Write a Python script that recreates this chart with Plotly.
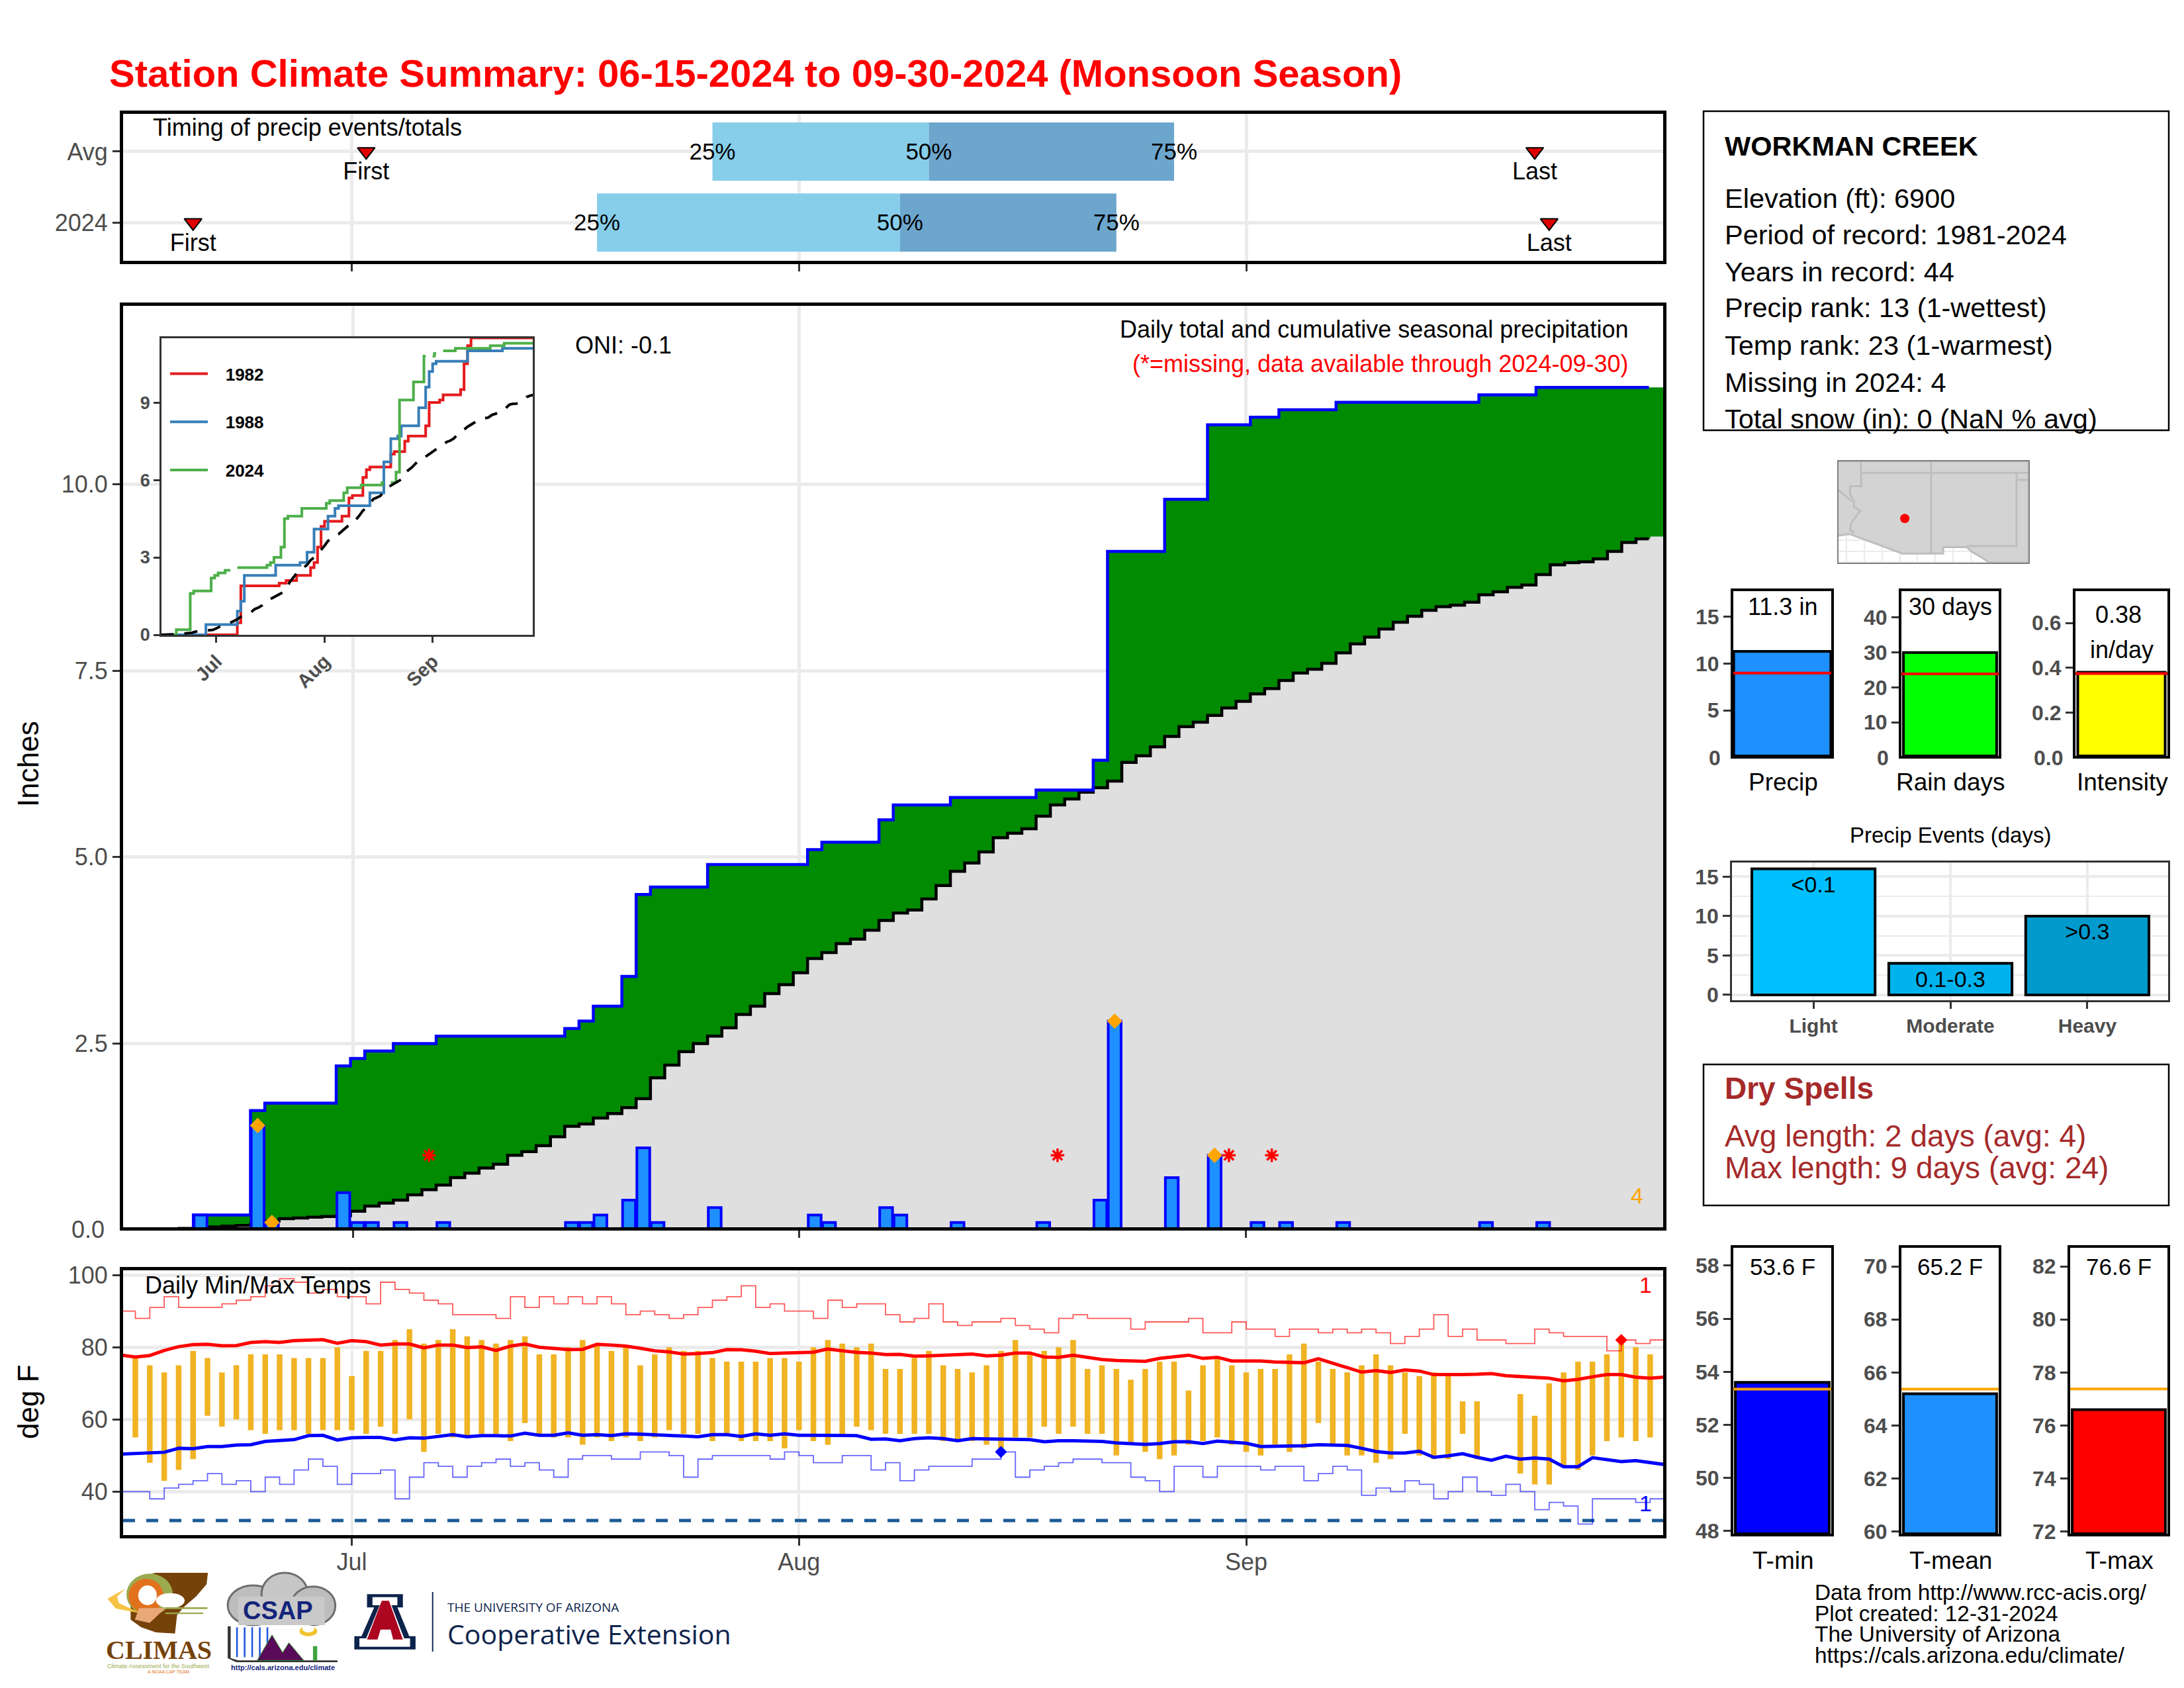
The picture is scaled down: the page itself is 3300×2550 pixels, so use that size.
"""
Station climate summary (monsoon season) rebuilt with Plotly
"""
import numpy as np
import plotly.graph_objects as go

W, H = 3300, 2550
PAGE_GAP = 8  # default body margin of the written page

# ---- data ----
days = list(range(108))
month_ticks = [16, 47, 78]
month_ticks_precip = [15.67, 46.92, 78.18]  # the daily bars fill the whole panel, so months sit slightly off
month_labels = ['Jul', 'Aug', 'Sep']

precip_2024 = [0, 0, 0, 0, 0, .2, 0, 0, 0, 1.4, .1, 0, 0, 0, 0, .5, .1, .1, 0, .1, 0, 0, .1, 0, 0, 0, 0, 0, 0, 0, 0,
               .1, .1, .2, 0, .4, 1.1, .1, 0, 0, 0, .3, 0, 0, 0, 0, 0, 0, .2, .1, 0, 0, 0, .3, .2, 0, 0, 0, .1, 0, 0,
               0, 0, 0, .1, 0, 0, 0, .4, 2.8, 0, 0, 0, .7, 0, 0, 1.0, 0, 0, .1, 0, .1, 0, 0, 0, .1, 0, 0, 0, 0, 0, 0,
               0, 0, 0, .1, 0, 0, 0, .1, 0, 0, 0, 0, 0, 0, 0, 0]
precip_avg = [0, 0, .01, .01, .02, .03, .04, .05, .06, .08, .12, .15, .16, .17, .18, .19, .25, .32, .36, .40,
              .47, .54, .6, .7, .76, .83, .88, 1.0, 1.05, 1.13, 1.25, 1.39, 1.42, 1.5, 1.56, 1.64, 1.76, 2.04,
              2.21, 2.39, 2.5, 2.6, 2.71, 2.89, 3.0, 3.17, 3.29, 3.45, 3.64, 3.72, 3.84, 3.9, 4.02, 4.15, 4.25,
              4.29, 4.44, 4.62, 4.81, 4.92, 5.07, 5.26, 5.32, 5.38, 5.55, 5.7, 5.78, 5.87, 5.93, 6.02, 6.27, 6.36,
              6.48, 6.62, 6.75, 6.81, 6.9, 7.0, 7.09, 7.19, 7.26, 7.37, 7.47, 7.52, 7.6, 7.74, 7.86, 7.95, 8.06,
              8.15, 8.23, 8.31, 8.36, 8.38, 8.42, 8.52, 8.56, 8.62, 8.65, 8.79, 8.92, 8.95, 8.96, 9.0, 9.1, 9.22,
              9.27, 9.3]
flag_days = [9, 10, 69, 76]
flag_vals = [1.4, .1, 2.8, 1.0]
missing_days = [21, 65, 77, 80]
missing_vals = [1.0, 1.0, 1.0, 1.0]

y1982_days = [0, 22, 23, 34, 36, 39, 43, 44, 45, 46, 47, 52, 54, 55, 58, 59, 60, 66, 67, 70, 71, 76, 77, 80, 81,
              86, 87, 88, 89, 107]
y1982_vals = [0, .47, 1.9, 2.0, 2.1, 2.3, 2.6, 2.8, 3.4, 4.2, 4.4, 4.6, 5.3, 5.4, 6.1, 6.4, 6.5, 7.0, 7.1, 7.5,
              7.7, 8.1, 9.0, 9.1, 9.3, 9.5, 10.5, 11.2, 11.5, 11.5]
y1988_days = [0, 13, 22, 23, 24, 33, 40, 42, 44, 48, 50, 51, 60, 64, 66, 68, 69, 74, 76, 77, 78, 79, 88, 98, 107]
y1988_vals = [0, .4, .92, 1.3, 2.3, 2.7, 2.8, 3.2, 4.1, 4.6, 4.9, 5.0, 5.5, 6.7, 7.6, 7.7, 8.1, 8.8, 9.6, 10.2,
              10.5, 10.6, 11.0, 11.1, 11.1]

temp_hi = [None, 77, 75, 73, 75, 79, 77, 73, 75, 78, 78, 78, 77, 77, 77, 80, 72, 79, 79, 82, 85, 81, 82, 85, 83, 82,
           81, 82, 83, 78, 78, 80, 82, 81, 79, 80, 75, 78, 80, 79, 79, 77, 76, 76, 76, 77, 77, 76, 80, 82, 81, 80,
           81, 74, 74, 77, 79, 75, 74, 73, 75, 79, 82, 78, 79, 80, 82, 74, 75, 74, 71, 74, 76, 76, 68, 75, 77, 75,
           73, 74, 74, 78, 81, 76, 74, 73, 75, 78, 75, 73, 72, 73, 72, 65, 65, None, None, 67, 61, 70, 73, 76, 76,
           78, 81, 80, 78, None]
temp_lo = [None, 55, 48, 43, 46, 49, 61, 58, 60, 57, 56, 57, 57, 56, 57, 57, 57, 56, 58, 56, 60, 51, 56, 55, 55, 56,
           56, 54, 59, 56, 55, 55, 53, 55, 54, 55, 54, 55, 57, 56, 56, 54, 56, 54, 54, 54, 52, 57, 54, 53, 56, 58,
           57, 56, 56, 56, 56, 54, 54, 54, 53, 52, 55, 55, 58, 56, 58, 56, 56, 50, 53, 51, 49, 50, 53, 54, 55, 53,
           51, 50, 53, 51, 52, 59, 53, 50, 50, 48, 49, 56, 50, 49, 49, 56, 49, None, None, 45, 42, 42, 47, 46, 50,
           54, 55, 54, 55, None]
avg_hi = [77.8, 77.3, 77.7, 79.1, 80.15, 80.7, 80.8, 80.4, 80.45, 81.3, 81.55, 81.3, 81.8, 82.0, 82.1, 81.1, 81.8,
          81.55, 80.6, 80.9, 80.9, 79.8, 80.6, 80.6, 79.9, 80.1, 79.1, 80.3, 80.9, 80.0, 79.7, 79.35, 79.4, 80.8,
          80.6, 80.3, 79.7, 79.0, 78.7, 78.1, 78.25, 78.5, 79.35, 79.3, 78.9, 78.25, 78.4, 78.6, 78.6, 79.5, 79.1,
          78.55, 78.4, 77.95, 78.0, 77.5, 77.6, 77.8, 77.9, 78.1, 77.6, 77.8, 78.4, 78.4, 77.3, 77.2, 77.8, 77.1,
          76.6, 76.3, 76.2, 76.1, 76.9, 77.4, 77.8, 76.9, 77.2, 76.2, 76.2, 76.2, 75.9, 75.9, 75.7, 76.8, 75.6, 74.5,
          73.1, 73.5, 73.0, 73.7, 73.4, 72.4, 72.3, 72.4, 72.5, 72.7, 72.1, 71.9, 71.8, 71.4, 70.7, 71.1, 71.8, 72.4,
          72.4, 71.7, 71.4, 71.7]
avg_lo = [50.4, 50.6, 50.9, 50.9, 52.0, 51.9, 52.5, 52.5, 52.9, 53.0, 53.9, 54.2, 54.4, 55.5, 55.6, 54.3, 54.9, 55.0,
          55.0, 54.3, 54.9, 54.8, 55.2, 55.8, 55.2, 55.5, 55.5, 55.4, 56.2, 55.6, 55.6, 56.3, 55.6, 55.8, 55.5, 56.0,
          55.9, 55.8, 55.7, 55.4, 55.2, 55.8, 55.8, 55.3, 56.0, 55.6, 56.0, 55.6, 55.6, 55.6, 55.5, 55.5, 54.5, 54.6,
          54.1, 54.7, 54.9, 54.7, 54.1, 54.7, 54.6, 54.5, 54.4, 54.4, 53.8, 54.1, 54.1, 54.1, 53.9, 53.5, 53.2, 53.1,
          53.3, 53.8, 53.8, 53.3, 54.0, 53.7, 53.4, 52.5, 52.5, 52.7, 52.7, 53.0, 53.0, 52.8, 52.0, 51.1, 50.7, 50.7,
          51.2, 49.5, 49.9, 50.5, 49.5, 48.7, 49.8, 49.0, 49.3, 49.0, 46.9, 46.9, 49.4, 48.9, 48.3, 48.6, 48.0, 47.5]
record_hi = [90, 88, 91, 94, 91, 91, 91, 92, 93, 94, 97, 99, 98, 95, 96, 94, 94, 92, 98, 96, 95, 93, 92, 89, 89, 89,
             88, 94, 91, 94, 92, 94, 92, 94, 92, 89, 90, 89, 88, 89, 91, 93, 94, 97, 91, 92, 90, 90, 88, 93, 91, 92,
             92, 89, 87, 88, 92, 87, 86, 87, 87, 88, 86, 85, 84, 88, 89, 88, 88, 88, 85, 87, 87, 87, 88, 84, 84, 87,
             85, 85, 83, 85, 85, 84, 85, 84, 85, 84, 81, 83, 85, 89, 83, 85, 82, 82, 81, 81, 85, 84, 83, 83, 83, 79,
             82, 81, 82, 82]
record_lo = [40, 40, 38, 41, 42, 43, 45, 42, 43, 40, 44, 42, 46, 49, 47, 42, 45, 45, 46, 38, 44, 48, 47, 44, 47, 48,
             49, 47, 48, 46, 44, 49, 50, 50, 49, 49, 51, 51, 50, 44, 49, 50, 50, 50, 50, 49, 51, 50, 48, 48, 50, 50,
             46, 48, 43, 46, 47, 47, 47, 49, 49, 51, 44, 46, 47, 48, 49, 49, 48, 48, 44, 43, 40, 47, 47, 44, 47, 47,
             47, 46, 47, 47, 43, 45, 47, 46, 39, 41, 40, 43, 42, 38, 40, 44, 40, 39, 42, 40, 35, 37, 36, 31, 38, 38,
             38, 37, 38, 38]
freeze_line = 32

timing_rows = [2, 1]
timing_names = ['Avg', '2024']
timing_q25 = [41, 33]
timing_q50 = [56, 54]
timing_q75 = [73, 69]
timing_first = [17, 5]
timing_last = [98, 99]

summary_lines = ['Elevation (ft): 6900', 'Period of record: 1981-2024', 'Years in record: 44',
                 'Precip rank: 13 (1-wettest)', 'Temp rank: 23 (1-warmest)', 'Missing in 2024: 4',
                 'Total snow (in): 0 (NaN % avg)']

event_names = ['Light', 'Moderate', 'Heavy']
event_days = [16, 4, 10]
event_labels = ['<0.1', '0.1-0.3', '>0.3']
event_label_y = [13.7, 1.74, 7.8]
event_colors = ['#00BFFF', '#00B2EE', '#009ACD']

# map outline, lon/lat
land_lon = [-115.56, -114.76, -111.07, -108.2, -108.2, -106.53, -106.2, -105.4, -104.95, -102.2, -102.2, -115.56]
land_lat = [32.6, 32.7, 31.33, 31.33, 31.78, 31.78, 31.47, 31.0, 30.69, 30.69, 37.8, 37.8]
border_lon = [-114.0, -113.96, -114.76, -114.76, -114.48, -114.46, -114.03, -114.64, -114.76, -114.46, None,
              -115.56, -114.64, None, -113.96, -102.2, None, -109.05, -109.05, None,
              -103.04, -103.04, -106.53, None, -103.04, -102.2]
border_lat = [37.8, 36.06, 36.06, 35.53, 35.0, 34.6, 34.33, 33.52, 33.0, 32.78, None,
              35.8, 35.0, None, 37.0, 37.0, None, 37.8, 31.33, None,
              37.0, 31.85, 31.85, None, 36.5, 36.5]
station_lon = [-110.9]
station_lat = [33.79]

GRID = '#EBEBEB'
TICK_GRAY = '#4D4D4D'
SANS = 'Liberation Sans'


def fx(px):
    return (px - PAGE_GAP) / W


def fy(py):
    return 1 - (py - PAGE_GAP) / H


def ann(text, x, y, size, color='black', anchor='left', bold=False, family=SANS, angle=0):
    """Text placed in page pixels"""
    return dict(text=f'<b>{text}</b>' if bold else text, x=fx(x), y=fy(y), xref='paper', yref='paper',
                xanchor=anchor, yanchor='middle', showarrow=False, textangle=angle,
                font=dict(size=size, color=color, family=family))


def poly(points, fill, line=None, width=0):
    """Page pixel polygon, used for the logos"""
    path = 'M ' + ' L '.join(f'{fx(x)},{fy(y)}' for x, y in points) + ' Z'
    return dict(type='path', path=path, xref='paper', yref='paper', fillcolor=fill, layer='above',
                line=dict(color=line or fill, width=width))


def oval(x0, y0, x1, y1, fill, line=None, width=0):
    return dict(type='circle', x0=fx(x0), x1=fx(x1), y0=fy(y1), y1=fy(y0), xref='paper', yref='paper',
                fillcolor=fill, layer='above', line=dict(color=line or fill, width=width))


def lz(zx, zy):
    """Logo strip coordinates to page pixels"""
    return 140 + zx / 1.568, 2340 + zy / 3


def box_axes(l, t, r, b, xrange, yrange, line=5, **kw):
    """Axis pair occupying a pixel box"""
    xa = dict(domain=[fx(l), fx(r)], range=xrange, showline=True, mirror=True, linecolor='black', linewidth=line,
              showgrid=False, zeroline=False, ticks='', showticklabels=False)
    ya = dict(domain=[fy(b), fy(t)], range=yrange, showline=True, mirror=True, linecolor='black', linewidth=line,
              showgrid=False, zeroline=False, ticks='outside', ticklen=11, tickwidth=3, tickcolor='#333333',
              tickfont=dict(size=32, color=TICK_GRAY, family=SANS, weight='bold'))
    ya.update(kw)
    return xa, ya


fig = go.Figure()
axes = {}
annotations = []
shapes = []


def set_axes(n, xa, ya):
    suffix = '' if n == 1 else str(n)
    xa['anchor'] = f'y{suffix}'
    ya['anchor'] = f'x{suffix}'
    axes[f'xaxis{suffix}'] = xa
    axes[f'yaxis{suffix}'] = ya


# ---- main precip panel ----
cum_2024 = np.cumsum(precip_2024).round(2).tolist()
day_range = [0.15, 106.9]
precip_range = [-0.42, 107.4]
main_yrange = [0.035, 12.395]
xa, ya = box_axes(186, 462, 2513, 1854, precip_range, main_yrange, tickvals=[2.5, 5, 7.5, 10],
                  ticktext=['2.5', '5.0', '7.5', '10.0'], showgrid=True, gridcolor=GRID, gridwidth=4.5,
                  tickfont=dict(size=36, color=TICK_GRAY, family=SANS))
xa.update(tickvals=month_ticks_precip, ticks='outside', ticklen=11, tickwidth=3, tickcolor='#333333', showgrid=True,
          gridcolor=GRID, gridwidth=4.5)
set_axes(1, xa, ya)
annotations.append(ann('0.0', 160, 1857, 36, TICK_GRAY, anchor='right'))

# bars have to sit over the area fills, so they get their own overlaid axes
axes['xaxis13'] = dict(domain=[fx(186), fx(2513)], range=precip_range, overlaying='x', anchor='y13', visible=False)
axes['yaxis13'] = dict(domain=[fy(1854), fy(462)], range=main_yrange, overlaying='y', anchor='x13', visible=False)

# white patch under the inset (hides the grid there)
shapes.append(dict(type='rect', xref='x', yref='y', x0=-0.02, x1=29.3, y0=7.1, y1=12.13, fillcolor='white',
                   line=dict(width=0), layer='below'))

fill_days = days + [107.5]
line_days = days[:107] + [106.4]
fig.add_trace(go.Scatter(x=fill_days, y=cum_2024 + cum_2024[-1:], mode='lines', line=dict(width=0, shape='hvh'),
                         fill='tozeroy', fillcolor='#008B00', showlegend=False))
fig.add_trace(go.Scatter(x=fill_days, y=precip_avg + precip_avg[-1:], mode='lines', line=dict(width=0, shape='hvh'),
                         fill='tozeroy', fillcolor='#DFDFDF', showlegend=False))
fig.add_trace(go.Scatter(x=line_days, y=precip_avg[:107] + precip_avg[106:107], mode='lines', showlegend=False,
                         line=dict(color='black', width=4.5, shape='hvh')))
fig.add_trace(go.Scatter(x=line_days, y=cum_2024[:107] + cum_2024[106:107], mode='lines', showlegend=False,
                         line=dict(color='#0000FF', width=4.5, shape='hvh')))
fig.add_trace(go.Bar(x=days, y=[p if p > 0 else None for p in precip_2024], width=0.9, showlegend=False,
                     marker=dict(color='#1E90FF', line=dict(color='#0000FF', width=4)), xaxis='x13', yaxis='y13'))
fig.add_trace(go.Scatter(x=flag_days, y=flag_vals, mode='markers', showlegend=False, xaxis='x13', yaxis='y13',
                         marker=dict(symbol='diamond', size=18, color='#FFA500')))
fig.add_trace(go.Scatter(x=missing_days, y=missing_vals, mode='markers', showlegend=False, xaxis='x13', yaxis='y13',
                         marker=dict(symbol='asterisk', size=17, color='red', line=dict(color='red', width=3.5))))

annotations += [
    ann('ONI: -0.1', 867, 522, 36),
    ann('Daily total and cumulative seasonal precipitation', 2462, 497, 36, anchor='right'),
    ann('(*=missing, data available through 2024-09-30)', 2462, 549, 36, 'red', anchor='right'),
    ann('4', 2473, 1806, 34, '#FFA500', anchor='center'),
    ann('Inches', 42, 1154, 44, anchor='center', angle=-90),
]

# ---- timing panel ----
xa, ya = box_axes(186, 172, 2513, 394, day_range, [0.463, 2.53], tickvals=timing_rows, ticktext=timing_names,
                  showgrid=True, gridcolor=GRID, gridwidth=4.5, tickfont=dict(size=36, color=TICK_GRAY, family=SANS))
xa.update(tickvals=month_ticks, ticks='outside', ticklen=11, tickwidth=3, tickcolor='#333333', showgrid=True,
          gridcolor=GRID, gridwidth=4.5)
set_axes(2, xa, ya)

fig.add_trace(go.Bar(y=timing_rows, x=[b - a for a, b in zip(timing_q25, timing_q50)], base=timing_q25,
                     orientation='h', width=0.82, marker=dict(color='#87CEEB', line=dict(width=0)), showlegend=False,
                     xaxis='x2', yaxis='y2'))
fig.add_trace(go.Bar(y=timing_rows, x=[b - a for a, b in zip(timing_q50, timing_q75)], base=timing_q50,
                     orientation='h', width=0.82, marker=dict(color='#6CA6CD', line=dict(width=0)), showlegend=False,
                     xaxis='x2', yaxis='y2'))
pct_rows = [r - 0.03 for r in timing_rows]  # text centre sits a little high otherwise
for vals, label in [(timing_q25, '25%'), (timing_q50, '50%'), (timing_q75, '75%')]:
    fig.add_trace(go.Scatter(x=vals, y=pct_rows, mode='text', text=[label] * 2, showlegend=False,
                             textfont=dict(size=35, color='black', family=SANS), xaxis='x2', yaxis='y2'))
for vals, label in [(timing_first, 'First'), (timing_last, 'Last')]:
    fig.add_trace(go.Scatter(x=vals, y=timing_rows, mode='markers+text', text=[label] * 2, showlegend=False,
                             textposition='bottom center', textfont=dict(size=36, color='black', family=SANS),
                             marker=dict(symbol='triangle-down', size=23, color='#E00000',
                                         line=dict(color='black', width=2)),
                             xaxis='x2', yaxis='y2'))
annotations.append(ann('Timing of precip events/totals', 229, 193, 36))

# ---- temperature panel ----
xa, ya = box_axes(186, 1919, 2513, 2319, day_range, [27.96, 101.3], tickvals=[40, 60, 80, 100], showgrid=True,
                  gridcolor=GRID, gridwidth=4.5, tickfont=dict(size=36, color=TICK_GRAY, family=SANS))
xa.update(tickvals=month_ticks, ticktext=month_labels, showticklabels=True, ticks='outside', ticklen=11, tickwidth=3,
          tickcolor='#333333', showgrid=True, gridcolor=GRID, gridwidth=4, ticklabelstandoff=-6,
          tickfont=dict(size=36, color=TICK_GRAY, family=SANS))
set_axes(3, xa, ya)

temp_span = [None if a is None else a - b for a, b in zip(temp_hi, temp_lo)]
fig.add_trace(go.Bar(x=days, y=temp_span, base=temp_lo, width=0.39, marker=dict(color='#F0B323', line=dict(width=0)),
                     showlegend=False, xaxis='x3', yaxis='y3'))
fig.add_trace(go.Scatter(x=day_range, y=[freeze_line] * 2, mode='lines', showlegend=False, xaxis='x3', yaxis='y3',
                         line=dict(color='#1B5A96', width=5, dash='18px,17px')))
fig.add_trace(go.Scatter(x=days, y=record_hi, mode='lines', showlegend=False, xaxis='x3', yaxis='y3',
                         line=dict(color='rgba(255,0,0,0.65)', width=1.8, shape='hv')))
fig.add_trace(go.Scatter(x=days, y=record_lo, mode='lines', showlegend=False, xaxis='x3', yaxis='y3',
                         line=dict(color='rgba(0,0,255,0.6)', width=1.8, shape='hv')))
fig.add_trace(go.Scatter(x=days, y=avg_hi, mode='lines', showlegend=False, xaxis='x3', yaxis='y3',
                         line=dict(color='#FF0000', width=5)))
fig.add_trace(go.Scatter(x=days, y=avg_lo, mode='lines', showlegend=False, xaxis='x3', yaxis='y3',
                         line=dict(color='#0000FF', width=5)))
fig.add_trace(go.Scatter(x=[104], y=[82], mode='markers', showlegend=False, xaxis='x3', yaxis='y3',
                         marker=dict(symbol='diamond', size=14, color='#FF0000')))
fig.add_trace(go.Scatter(x=[61], y=[51], mode='markers', showlegend=False, xaxis='x3', yaxis='y3',
                         marker=dict(symbol='diamond', size=14, color='#0000FF')))
annotations += [
    ann('Daily Min/Max Temps', 217, 1941, 36),
    ann('1', 2486, 1941, 34, 'red', anchor='center'),
    ann('1', 2486, 2271, 34, '#0000FF', anchor='center'),
    ann('deg F', 42, 2118, 44, anchor='center', angle=-90),
]

# ---- inset ----
xa, ya = box_axes(244, 511, 805, 959, [0.26, 106.7], [0, 11.49], line=2.5, tickvals=[0, 3, 6, 9],
                  tickfont=dict(size=27, color=TICK_GRAY, family=SANS, weight='bold'), ticklen=9)
xa.update(tickvals=month_ticks, ticktext=month_labels, showticklabels=True, ticks='outside', ticklen=9, tickwidth=3,
          tickcolor='#333333', tickangle=-45, tickfont=dict(size=29, color=TICK_GRAY, family=SANS, weight='bold'),
          mirror=True)
ya['linecolor'] = '#333333'
xa['linecolor'] = '#333333'
set_axes(4, xa, ya)

inset_2024 = [None if d in missing_days else c for d, c in zip(days, cum_2024)]
LEGEND_GAP = '\u00a0\u00a0\u00a0'
fig.add_trace(go.Scatter(x=y1982_days, y=y1982_vals, mode='lines', name=LEGEND_GAP + '1982', legendgroup='a', xaxis='x4',
                         yaxis='y4', line=dict(color='#E41A1C', width=4, shape='hv')))
fig.add_trace(go.Scatter(x=y1988_days, y=y1988_vals, mode='lines', name=LEGEND_GAP + '1988', legendgroup='b', xaxis='x4',
                         yaxis='y4', line=dict(color='#377EB8', width=4, shape='hv')))
fig.add_trace(go.Scatter(x=days, y=inset_2024, mode='lines', name=LEGEND_GAP + '2024', legendgroup='c', xaxis='x4',
                         yaxis='y4', line=dict(color='#4DAF4A', width=4, shape='hvh')))
fig.add_trace(go.Scatter(x=days, y=precip_avg, mode='lines', showlegend=False, xaxis='x4', yaxis='y4',
                         line=dict(color='black', width=4, dash='20px,16px')))

# ---- map ----
xa, ya = box_axes(2778, 697, 3065, 850, [-115.56, -102.2], [30.69, 37.8], line=1.5, ticks='', showticklabels=False,
                  showgrid=True, gridcolor=GRID, gridwidth=1.5, dtick=0.75, tick0=30)
xa.update(showgrid=True, gridcolor=GRID, gridwidth=1.5, dtick=1.25, tick0=-115, linecolor='#7F7F7F')
ya['linecolor'] = '#7F7F7F'
set_axes(5, xa, ya)
fig.add_trace(go.Scatter(x=land_lon, y=land_lat, mode='lines', fill='toself', fillcolor='#D3D3D3', showlegend=False,
                         line=dict(color='#BEBEBE', width=3), xaxis='x5', yaxis='y5'))
fig.add_trace(go.Scatter(x=border_lon, y=border_lat, mode='lines', showlegend=False,
                         line=dict(color='#BEBEBE', width=3), xaxis='x5', yaxis='y5'))
fig.add_trace(go.Scatter(x=station_lon, y=station_lat, mode='markers', showlegend=False,
                         marker=dict(color='#FF0000', size=14), xaxis='x5', yaxis='y5'))

# ---- small summary bars ----
stat_panels = [
    dict(n=6, box=(2619, 893, 2767, 1142), yr=[0.14, 17.74], ticks=[5, 10, 15], val=11.3, avg=9.0, color='#1E90FF',
         line='#FF0000', label='Precip', fmt=['11.3 in'], bw=1.19),
    dict(n=7, box=(2873, 893, 3020, 1142), yr=[0.38, 47.58], ticks=[10, 20, 30, 40], val=30, avg=23.9, color='#00FF00',
         line='#FF0000', label='Rain days', fmt=['30 days'], bw=1.15),
    dict(n=8, box=(3136, 893, 3275, 1142), yr=[0.006, 0.742], ticks=[.2, .4, .6], val=0.38, avg=0.374, color='#FFFF00',
         line='#FF0000', label='Intensity', fmt=['0.38', 'in/day'], bw=1.14),
    dict(n=10, box=(2619, 1885, 2767, 2317), yr=[47.9, 58.67], ticks=[48, 50, 52, 54, 56, 58], val=53.6, avg=53.35,
         color='#0000FF', line='#FFA500', label='T-min', fmt=['53.6 F'], bw=1.15),
    dict(n=11, box=(2873, 1885, 3020, 2317), yr=[59.92, 70.7], ticks=[60, 62, 64, 66, 68, 70], val=65.2, avg=65.37,
         color='#1E90FF', line='#FFA500', label='T-mean', fmt=['65.2 F'], bw=1.15),
    dict(n=12, box=(3128, 1885, 3275, 2317), yr=[71.92, 82.7], ticks=[72, 74, 76, 78, 80, 82], val=76.6, avg=77.38,
         color='#FF0000', line='#FFA500', label='T-max', fmt=['76.6 F'], bw=1.15),
]
for p in stat_panels:
    l, t, r, b = p['box']
    xa, ya = box_axes(l, t, r, b, [-0.6, 0.6], p['yr'], line=4, tickvals=p['ticks'])
    if p['n'] == 8:
        ya.update(tickformat='.1f')
    set_axes(p['n'], xa, ya)
    xn, yn = f"x{p['n']}", f"y{p['n']}"
    fig.add_trace(go.Bar(x=[0], y=[p['val'] - p['yr'][0]], base=p['yr'][0], width=p['bw'], showlegend=False,
                         marker=dict(color=p['color'], line=dict(color='black', width=4)), xaxis=xn, yaxis=yn))
    fig.add_trace(go.Scatter(x=[-0.6, 0.6], y=[p['avg']] * 2, mode='lines', showlegend=False, xaxis=xn, yaxis=yn,
                             line=dict(color=p['line'], width=4)))
    cx = (l + r) / 2
    if p['n'] < 10:
        annotations.append(ann(p['label'], cx + 1, 1181, 37, anchor='center'))
        zero_text = '0.0' if p['n'] == 8 else '0'
        annotations.append(ann(f'<b>{zero_text}</b>', l - 17, 1145, 32, TICK_GRAY, anchor='right'))
        if len(p['fmt']) == 1:
            annotations.append(ann(p['fmt'][0], cx, 916, 36, anchor='center'))
        else:
            annotations.append(ann(p['fmt'][0], cx - 5, 928, 36, anchor='center'))
            annotations.append(ann(p['fmt'][1], cx, 981, 36, anchor='center'))
    else:
        annotations.append(ann(p['label'], cx + 1, 2357, 37, anchor='center'))
        annotations.append(ann(p['fmt'][0], cx, 1913, 35, anchor='center'))

# ---- precip events ----
xa, ya = box_axes(2617, 1303, 3276, 1511, [0.405, 3.59], [-0.68, 16.8], line=2.5, tickvals=[0, 5, 10, 15],
                  showgrid=True, gridcolor=GRID, gridwidth=3.5,
                  minor=dict(tickvals=[2.5, 7.5, 12.5], showgrid=True, gridcolor=GRID, gridwidth=2, ticks=''))
xa.update(tickvals=[1, 2, 3], ticktext=event_names, showticklabels=True, ticks='outside', ticklen=10, tickwidth=3,
          tickcolor='#333333', showgrid=True, gridcolor=GRID, gridwidth=3.5,
          tickfont=dict(size=30, color=TICK_GRAY, family=SANS, weight='bold'), linecolor='#333333')
ya['linecolor'] = '#333333'
set_axes(9, xa, ya)
fig.add_trace(go.Bar(x=[1, 2, 3], y=event_days, width=0.9, showlegend=False, xaxis='x9', yaxis='y9',
                     marker=dict(color=event_colors, line=dict(color='black', width=4))))
fig.add_trace(go.Scatter(x=[1, 2, 3], y=event_label_y, mode='text', text=event_labels, showlegend=False,
                         textfont=dict(size=34, color='black', family=SANS), xaxis='x9', yaxis='y9'))
annotations.append(ann('Precip Events (days)', 2947, 1261, 33, anchor='center'))

# ---- title and text boxes ----
annotations.append(ann('Station Climate Summary: 06-15-2024 to 09-30-2024 (Monsoon Season)', 163, 110, 58, '#FF0000',
                       bold=True))
for x0, y0, x1, y1 in [(2574, 168, 3277, 650), (2574, 1608, 3277, 1821)]:
    shapes.append(dict(type='rect', xref='paper', yref='paper', x0=fx(x0), x1=fx(x1), y0=fy(y1), y1=fy(y0),
                       line=dict(color='black', width=2.5)))
annotations.append(ann('WORKMAN CREEK', 2604, 221, 41.5, bold=True))
for line_y, text in zip([299, 354, 410, 465, 522, 577, 632], summary_lines):
    annotations.append(ann(text, 2604, line_y, 41.5))
annotations += [
    ann('Dry Spells', 2604, 1644, 46, '#A52A2A', bold=True),
    ann('Avg length: 2 days (avg: 4)', 2604, 1716, 46, '#A52A2A'),
    ann('Max length: 9 days (avg: 24)', 2604, 1764, 46, '#A52A2A'),
]
for line_y, text in zip([2405, 2437, 2468, 2500], ['Data from http://www.rcc-acis.org/', 'Plot created: 12-31-2024',
                                                   'The University of Arizona', 'https://cals.arizona.edu/climate/']):
    annotations.append(ann(text, 2740, line_y, 33.4))

# ---- logos (rough redraws) ----
BROWN = '#75420A'
NAVY = '#0C234B'
shapes.append(poly([lz(*q) for q in [(148, 108), (273, 108), (270, 160), (245, 215), (215, 265), (200, 300), (195, 383),
                                     (150, 378), (115, 355), (90, 320), (90, 170), (110, 130)]], BROWN))
shapes.append(oval(*lz(80, 112), *lz(190, 300), '#9BAA4E'))
shapes.append(oval(*lz(85, 135), *lz(168, 290), '#E2711D'))
shapes.append(oval(*lz(108, 165), *lz(152, 255), 'white'))
shapes.append(oval(*lz(150, 200), *lz(218, 268), 'white'))
shapes.append(poly([lz(*q) for q in [(78, 180), (35, 225), (55, 270), (115, 292), (62, 245), (58, 215)]], '#F6C344'))
shapes.append(poly([lz(*q) for q in [(110, 268), (172, 268), (135, 335), (100, 320)]], '#E9A878'))
shapes.append(poly([lz(*q) for q in [(172, 264), (272, 264), (272, 272), (172, 272)]], '#9BAA4E'))
shapes.append(poly([lz(*q) for q in [(172, 288), (262, 288), (262, 295), (172, 295)]], '#9BAA4E'))
annotations += [
    ann('CLIMAS', 240, 2492, 40, BROWN, anchor='center', bold=True, family='Liberation Serif'),
    ann('Climate Assessment for the Southwest', 240, 2517, 9, '#9BAA4E', anchor='center'),
    ann('A NOAA CAP TEAM', 288, 2525, 7, '#E2711D', anchor='right'),
]

shapes.append(oval(*lz(320, 165), *lz(440, 345), '#BDBDBD', '#6E6E6E', 3))
shapes.append(oval(*lz(400, 108), *lz(510, 300), '#C6C6C6', '#6E6E6E', 3))
shapes.append(oval(*lz(470, 170), *lz(575, 345), '#BDBDBD', '#6E6E6E', 3))
shapes.append(poly([lz(*q) for q in [(345, 215), (550, 215), (550, 345), (345, 345)]], '#C9C9C9'))
for rain_x in (340, 358, 376, 394, 412):
    shapes.append(poly([lz(*q) for q in [(rain_x, 355), (rain_x + 4, 355), (rain_x + 4, 490), (rain_x, 490)]], '#1F55E0'))
shapes.append(poly([lz(*q) for q in [(320, 350), (327, 350), (327, 495), (345, 505), (580, 505), (580, 513), (340, 513),
                                     (320, 495)]], '#333333'))
shapes.append(poly([lz(*q) for q in [(390, 505), (425, 390), (450, 470), (465, 425), (500, 505)]], '#5A0A5A', '#1E8A1E', 1))
shapes.append(poly([lz(*q) for q in [(522, 440), (532, 440), (532, 505), (522, 505)]], '#3FA33F'))
shapes.append(oval(*lz(490, 350), *lz(532, 395), '#F2C230'))
shapes.append(oval(*lz(497, 345), *lz(525, 378), 'white'))
annotations += [
    ann('CSAP', 420, 2433, 38, '#14247A', anchor='center', bold=True),
    ann('http://cals.arizona.edu/climate', 428, 2519, 11, '#14247A', anchor='center', bold=True),
]

# block A: navy body, white keyline, red letter
shapes.append(poly([lz(*q) for q in [(620, 455), (620, 395), (637, 395), (667, 265), (650, 265), (650, 205), (735, 205),
                                     (735, 265), (722, 265), (750, 395), (765, 395), (765, 455)]], NAVY))
shapes.append(poly([lz(*q) for q in [(632, 443), (632, 405), (648, 405), (680, 255), (663, 255), (663, 218), (722, 218),
                                     (722, 255), (708, 255), (738, 405), (752, 405), (752, 443)]], 'white'))
shapes.append(poly([lz(*q) for q in [(650, 410), (685, 235), (702, 235), (735, 410), (712, 410), (706, 365), (682, 365),
                                     (675, 410)]], '#AB0520'))
shapes.append(poly([lz(*q) for q in [(804, 195), (807, 195), (807, 465), (804, 465)]], NAVY))
annotations += [
    ann('THE UNIVERSITY OF ARIZONA', 674, 2428, 19, NAVY, family='Open Sans'),
    ann('Cooperative Extension', 674, 2468, 41, NAVY, family='Open Sans'),
]

fig.update_layout(
    width=W,
    height=H,
    margin=dict(l=0, r=0, t=0, b=0, autoexpand=False),
    paper_bgcolor='white',
    plot_bgcolor='white',
    barmode='overlay',
    font=dict(family=SANS),
    annotations=annotations,
    shapes=shapes,
    legend=dict(x=fx(252), y=fy(541), xanchor='left', yanchor='top', bgcolor='rgba(0,0,0,0)', itemwidth=57,
                tracegroupgap=36, font=dict(size=26, color='black', family=SANS, weight='bold'),
                itemclick=False),
    **axes
)

fig.write_html("out.html")
